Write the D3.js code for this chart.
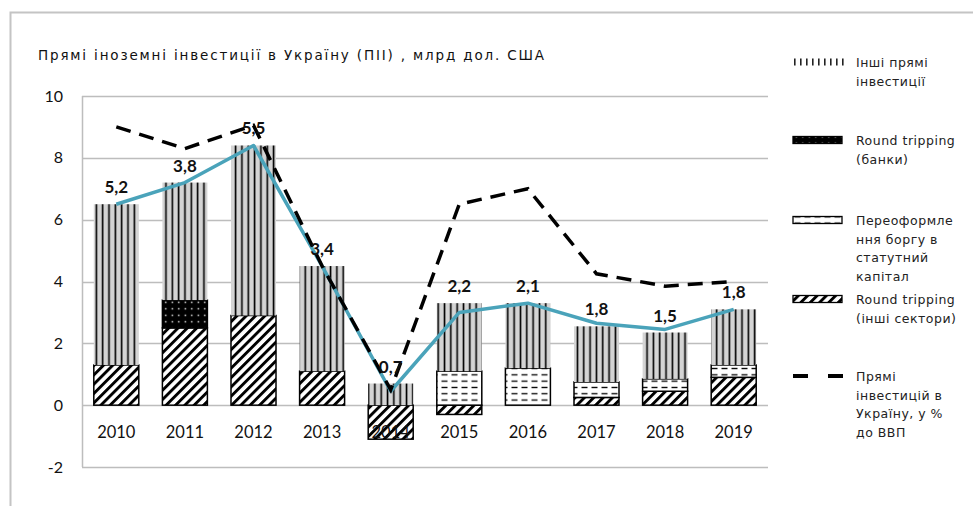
<!DOCTYPE html>
<html>
<head>
<meta charset="utf-8">
<script src="https://cdn.jsdelivr.net/npm/d3@7"></script>
<style>
  body { margin: 0; background: #fff; }
</style>
</head>
<body>
<div id="chart-area"></div>
<script>
// DATA
var years     = [2010, 2011, 2012, 2013, 2014, 2015, 2016, 2017, 2018, 2019];
var rtOther   = [1.3, 2.5, 2.9, 1.1, -1.1, -0.3, 0, 0.25, 0.45, 0.9];   // Round tripping (інші сектори)
var debtSwap  = [0, 0, 0, 0, 0, 1.1, 1.2, 0.5, 0.4, 0.4];               // Переоформлення боргу
var rtBanks   = [0, 0.9, 0, 0, 0, 0, 0, 0, 0, 0];                       // Round tripping (банки)
var otherFdi  = [5.2, 3.8, 5.5, 3.4, 0.7, 2.2, 2.1, 1.8, 1.5, 1.8];     // Інші прямі інвестиції
var fdiTotal  = [6.5, 7.2, 8.4, 4.5, 0.45, 3.0, 3.3, 2.65, 2.45, 3.1];  // blue line
var fdiGdp    = [9.0, 8.3, 9.05, 4.5, 0.5, 6.5, 7.0, 4.25, 3.85, 4.0];  // dashed line, % ВВП
var yTicks    = [-2, 0, 2, 4, 6, 8, 10];

var title = "Прямі іноземні інвестиції в Україну (ПІІ) , млрд дол. США";
var legendKeys  = ["other", "banks", "debt", "rt", "gdp"];
var legendLines = [
    ["Інші прямі", "інвестиції"],
    ["Round tripping", "(банки)"],
    ["Переоформле", "ння боргу в", "статутний", "капітал"],
    ["Round tripping", "(інші сектори)"],
    ["Прямі", "інвестицій в", "Україну, у %", "до ВВП"]
];
var legendRowY = [62, 140, 220, 299, 376];

var W = 973, H = 506;
var plot = { left: 82, right: 768, top: 96, bottom: 467 };

var svg = d3.select("#chart-area")
    .append("svg")
        .attr("width", W)
        .attr("height", H);

// PATTERNS
var defs = svg.append("defs");

var pVert = defs.append("pattern").attr("id", "p-vert")
    .attr("patternUnits", "userSpaceOnUse").attr("width", 6.33).attr("height", 10);
pVert.append("rect").attr("width", 6.33).attr("height", 10).attr("fill", "#d4d4d4");
pVert.append("rect").attr("x", 0.6).attr("width", 1.6).attr("height", 10).attr("fill", "#000");

var pVertL = defs.append("pattern").attr("id", "p-vert-legend")
    .attr("patternUnits", "userSpaceOnUse").attr("width", 6).attr("height", 10);
pVertL.append("rect").attr("width", 6).attr("height", 10).attr("fill", "#fff");
pVertL.append("rect").attr("x", 1).attr("width", 1.6).attr("height", 10).attr("fill", "#222");

var pDots = defs.append("pattern").attr("id", "p-dots")
    .attr("patternUnits", "userSpaceOnUse").attr("width", 6.5).attr("height", 6.5);
pDots.append("rect").attr("width", 6.5).attr("height", 6.5).attr("fill", "#000");
pDots.append("rect").attr("x", 2.6).attr("y", 2.6).attr("width", 1.4).attr("height", 1.4).attr("fill", "#fff");

var pDash = defs.append("pattern").attr("id", "p-dash")
    .attr("patternUnits", "userSpaceOnUse").attr("width", 10).attr("height", 6.3);
pDash.append("rect").attr("width", 10).attr("height", 6.3).attr("fill", "#fff");
pDash.append("rect").attr("x", 1.5).attr("y", 2.5).attr("width", 6).attr("height", 1.3).attr("fill", "#000");

var pDiag = defs.append("pattern").attr("id", "p-diag")
    .attr("patternUnits", "userSpaceOnUse").attr("width", 6.6).attr("height", 6.6)
    .attr("patternTransform", "rotate(45)");
pDiag.append("rect").attr("width", 6.6).attr("height", 6.6).attr("fill", "#fff");
pDiag.append("rect").attr("x", 0).attr("width", 2.9).attr("height", 6.6).attr("fill", "#000");

var fills = { rt: "url(#p-diag)", debt: "url(#p-dash)", banks: "url(#p-dots)", other: "url(#p-vert)" };

// OUTER FRAME
svg.append("rect")
    .attr("x", 10.5).attr("y", 12.5)
    .attr("width", 1000).attr("height", 600)
    .attr("fill", "none")
    .attr("stroke", "#c4c4c4")
    .attr("stroke-width", 2);

// TITLE
svg.append("text")
    .attr("x", 38)
    .attr("y", 60)
    .attr("font-family", "DejaVu Sans, sans-serif")
    .attr("font-size", "13.5px")
    .attr("fill", "#111")
    .attr("textLength", 506)
    .attr("lengthAdjust", "spacing")
    .text(title);

// SCALES
var x = d3.scaleBand()
    .domain(years)
    .range([plot.left, plot.right])
    .paddingInner(0.344)
    .paddingOuter(0.172);

var y = d3.scaleLinear()
    .domain([-2, 10])
    .range([plot.bottom, plot.top]);

var g = svg.append("g");

// GRIDLINES
g.selectAll(".grid")
    .data(yTicks)
    .enter().append("line")
        .attr("x1", plot.left).attr("x2", plot.right)
        .attr("y1", function(d) { return Math.round(y(d)) + 0.5; })
        .attr("y2", function(d) { return Math.round(y(d)) + 0.5; })
        .attr("stroke", "#bdbdbd")
        .attr("stroke-width", 1.5);

g.append("line")
    .attr("x1", plot.left + 0.5).attr("x2", plot.left + 0.5)
    .attr("y1", y(10)).attr("y2", y(-2))
    .attr("stroke", "#bdbdbd")
    .attr("stroke-width", 1.5);

// Y AXIS LABELS
var yAxisCall = d3.axisLeft(y).tickValues(yTicks).tickSize(0).tickPadding(0)
    .tickFormat(function(d) { return d; });
var yAxis = g.append("g")
    .attr("transform", "translate(" + (plot.left - 19) + ",0)")
    .call(yAxisCall);
yAxis.select(".domain").remove();
yAxis.selectAll("text")
    .attr("font-family", "Lato, sans-serif")
    .attr("font-size", "16px")
    .attr("fill", "#111");

// STACKED BARS
var rows = years.map(function(yr, i) {
    return { year: yr, rt: rtOther[i], debt: debtSwap[i], banks: rtBanks[i], other: otherFdi[i] };
});
var stack = d3.stack()
    .keys(["rt", "debt", "banks", "other"])
    .offset(d3.stackOffsetDiverging);
var series = stack(rows);

series.forEach(function(s) {
    g.append("g")
        .selectAll("rect")
        .data(s.filter(function(d) { return d[1] !== d[0]; }))
        .enter().append("rect")
            .attr("x", function(d) { return x(d.data.year); })
            .attr("width", x.bandwidth())
            .attr("y", function(d) { return y(Math.max(d[0], d[1])); })
            .attr("height", function(d) { return Math.abs(y(d[0]) - y(d[1])); })
            .attr("fill", fills[s.key])
            .attr("stroke", s.key === "other" ? "none" : "#000")
            .attr("stroke-width", 1.5);
});

// X LABELS (low position)
g.selectAll(".year")
    .data(years)
    .enter().append("text")
        .attr("x", function(d) { return x(d) + x.bandwidth() / 2; })
        .attr("y", y(0) + 33)
        .attr("text-anchor", "middle")
        .attr("font-family", "Lato, sans-serif")
        .attr("font-size", "16.5px")
        .attr("fill", "#111")
        .text(function(d) { return d; });

// LINES
var cx = function(i) { return x(years[i]) + x.bandwidth() / 2; };

var valueLine = d3.line()
    .x(function(d, i) { return cx(i); })
    .y(function(d) { return y(d); });

g.append("path")
    .datum(fdiTotal)
    .attr("d", valueLine)
    .attr("fill", "none")
    .attr("stroke", "#4aa3ba")
    .attr("stroke-width", 3.5)
    .attr("stroke-linejoin", "round");

g.append("path")
    .datum(fdiGdp)
    .attr("d", valueLine)
    .attr("fill", "none")
    .attr("stroke", "#000")
    .attr("stroke-width", 3.5)
    .attr("stroke-dasharray", "15,9");

// DATA LABELS
g.selectAll(".val")
    .data(series[3])
    .enter().append("text")
        .attr("x", function(d) { return x(d.data.year) + x.bandwidth() / 2; })
        .attr("y", function(d) { return y(d[1]) - 11; })
        .attr("text-anchor", "middle")
        .attr("font-family", "Lato, sans-serif")
        .attr("font-weight", "bold")
        .attr("font-size", "17px")
        .attr("fill", "#111")
        .text(function(d) { return String(d.data.other).replace(".", ","); });

// LEGEND
var legend = svg.append("g");

legendKeys.forEach(function(key, i) {
    var row = legend.append("g")
        .attr("transform", "translate(793," + legendRowY[i] + ")");

    if (key === "gdp") {
        row.append("line")
            .attr("x1", 0).attr("x2", 50)
            .attr("y1", 0).attr("y2", 0)
            .attr("stroke", "#000")
            .attr("stroke-width", 4)
            .attr("stroke-dasharray", "15,20");
    } else {
        row.append("rect")
            .attr("x", 0).attr("y", -3.5)
            .attr("width", key === "other" ? 52 : 49)
            .attr("height", 7)
            .attr("fill", key === "other" ? "url(#p-vert-legend)" : fills[key])
            .attr("stroke", key === "other" ? "none" : "#000")
            .attr("stroke-width", 1.3);
    }

    legendLines[i].forEach(function(line, j) {
        row.append("text")
            .attr("x", 63)
            .attr("y", 5 + j * 18.5)
            .attr("font-family", "DejaVu Sans, sans-serif")
            .attr("font-size", "12.5px")
            .attr("letter-spacing", "0.5px")
            .attr("fill", "#222")
            .text(line);
    });
});
</script>
</body>
</html>
